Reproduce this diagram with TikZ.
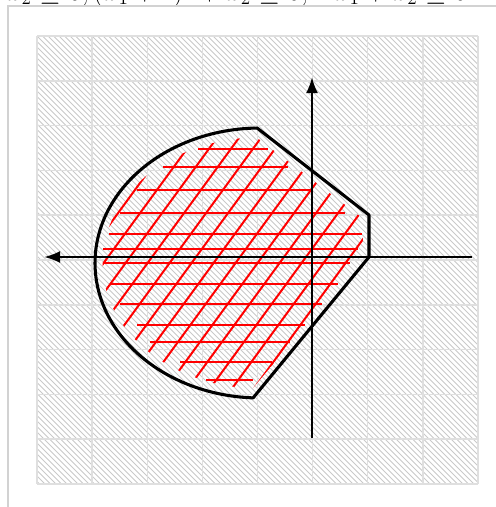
\documentclass[tikz,border=0pt]{standalone}
\usetikzlibrary{arrows.meta}
\begin{document}
\begin{tikzpicture}[x=0.75pt,y=-0.75pt,
  gridline/.style={draw=gray!25, line width=1.1pt},
  hatchline/.style={draw=gray!42, line width=0.55pt},
  framel/.style={draw=gray!35, line width=1.5pt},
  axisline/.style={draw=black, line width=1.9pt, -{Latex[length=12pt,width=9pt]}},
  bound/.style={draw=black, line width=2.3pt, line join=round},
  redh/.style={draw=red, line width=1.5pt},
]
\useasboundingbox (0,0) rectangle (496,507);
% cropped formula at the top
\node[anchor=base west, inner sep=0pt, font=\fontsize{20.5}{20.5}\selectfont] (eq) at (6,0)
  {$x_2 \geq 0, (x_1+1)^2 + x_2 \geq 0, -x_1 + x_2 \geq 0$};
% frame
\coordinate (f1) at (8,507);
\coordinate (f2) at (8,6);
\coordinate (f3) at (496,6);
\draw[framel] (f1) -- (f2) -- (f3);
% hatched background
\begin{scope}
\clip (37,36) rectangle (478,484);
\foreach \c in {-450,-444.5,...,450} \draw[hatchline] (\c+30,30) -- (\c+490,490);
\end{scope}
% grid
\foreach \i in {0,...,8} \draw[gridline] ({37+55.125*\i},36) -- ({37+55.125*\i},484);
\foreach \j in {0,...,10} \draw[gridline] (37,{36+44.8*\j}) -- (478,{36+44.8*\j});
% red diagonal hatching
\begin{scope}
\clip plot[domain=92.4:269, samples=60] ({259.25+156.75*cos(\x)},{262.93+125.55*sin(\x)})
  -- (362.8,218.3) -- (362.8,257.35) -- cycle;
\foreach \X in {64,86,...,372} \draw[redh] ({\X+0.73*157},100) -- ({\X-0.73*163},420);
\end{scope}
% red horizontal hatching
\foreach \yy/\xa/\xb in {149/198/268, 167/163/288, 190/137/311, 213/120/345, 234/109/362,
  249/103/358, 263/103/350, 284/110/338, 304/120/322, 325/137/305, 342/150/290,
  362/180/272, 380/206/253}
  \draw[redh] (\xa,\yy) -- (\xb,\yy);
% axes
\coordinate (xr) at (472,257);
\coordinate (xl) at (44,257);
\coordinate (yb) at (312,438);
\coordinate (yt) at (312,77);
\draw[axisline] (xr) -- (xl);
\draw[axisline] (yb) -- (yt);
% boundary of the region
\draw[bound] plot[domain=92.4:269, samples=90] ({260+165*cos(\x)},{263+135*sin(\x)})
  -- (369,215) -- (369,257) -- cycle;
\end{tikzpicture}
\end{document}
